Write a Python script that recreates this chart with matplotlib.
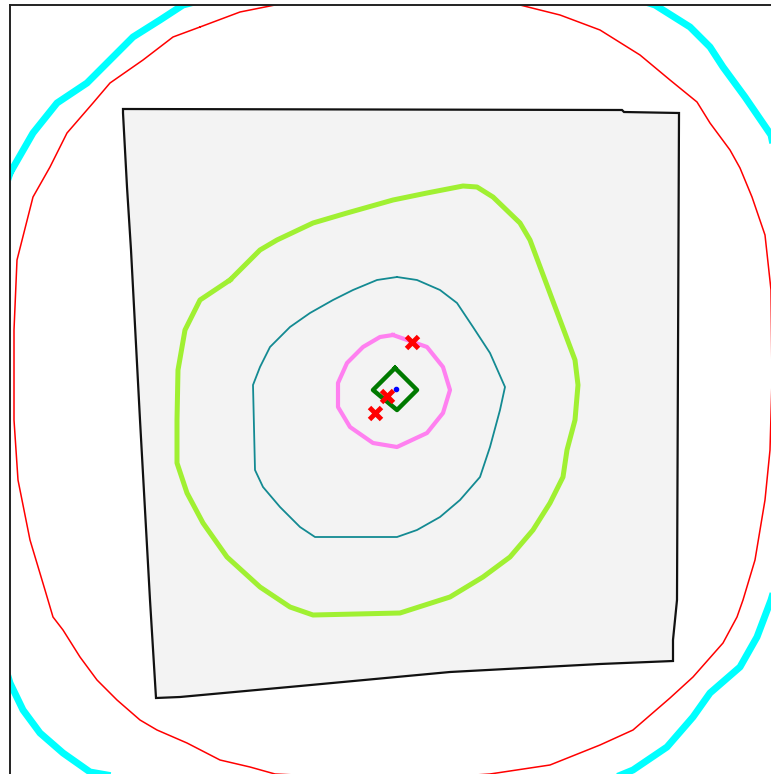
import numpy as np
import matplotlib
matplotlib.use("Agg")
import matplotlib.pyplot as plt
from matplotlib.patches import Polygon

# contour outlines (x, y in picture pixels, y down)
cyan_ring = [(10, 173), (33, 133), (57, 103), (87, 83), (107, 63), (133, 37), (160, 20),
             (183, 5), (300, -25), (420, -35), (560, -25), (655, 5), (690, 27), (710, 47),
             (723, 67), (745, 97), (771, 135), (795, 250), (805, 400), (795, 520),
             (771, 600), (757, 637), (740, 667), (710, 693), (693, 717), (667, 747),
             (633, 770), (560, 800), (400, 810), (250, 800), (90, 772), (63, 753),
             (40, 733), (23, 710), (10, 683), (-15, 600), (-25, 420), (-15, 250)]

red_ring = [(200, 27), (240, 12), (280, 4), (400, -3), (520, 5), (560, 15), (600, 30),
            (640, 55), (670, 80), (697, 102), (710, 123), (730, 150), (740, 168),
            (752, 197), (765, 235), (771, 290), (772, 380), (770, 450), (765, 500),
            (755, 560), (743, 600), (737, 617), (723, 643), (693, 677), (670, 698),
            (633, 730), (600, 745), (550, 765), (490, 774), (400, 780), (275, 774),
            (250, 767), (220, 760), (187, 743), (157, 730), (140, 720), (117, 700),
            (97, 680), (80, 657), (63, 630), (53, 617), (45, 590), (30, 540), (18, 480),
            (14, 420), (14, 330), (17, 260), (33, 197), (50, 167), (67, 133), (93, 103),
            (110, 83), (143, 60), (173, 37)]

green_ring = [(230, 280), (260, 250), (277, 240), (313, 223), (347, 213), (393, 200),
              (427, 193), (463, 186), (477, 187), (493, 197), (520, 223), (530, 240),
              (545, 280), (560, 320), (575, 360), (578, 385), (575, 420), (567, 450),
              (563, 477), (550, 503), (533, 530), (510, 557), (483, 577), (450, 597),
              (400, 613), (313, 615), (290, 607), (260, 587), (227, 557), (203, 523),
              (187, 493), (177, 463), (177, 420), (178, 370), (185, 330), (200, 300)]

teal_ring = [(397, 277), (417, 280), (440, 290), (457, 303), (473, 327), (490, 353),
             (505, 387), (500, 410), (490, 447), (480, 477), (460, 500), (440, 517),
             (417, 530), (397, 537), (315, 537), (300, 527), (280, 507), (263, 487),
             (255, 470), (253, 385), (260, 367), (270, 347), (290, 327), (310, 313),
             (333, 300), (353, 290), (377, 280)]

pink_ring = [(393, 335), (427, 347), (443, 367), (450, 390), (443, 413), (427, 433),
             (397, 447), (373, 443), (350, 427), (338, 407), (338, 383), (347, 363),
             (363, 347), (380, 337)]

diamond = [(395, 368), (417, 390), (397, 410), (373, 390)]

box = [(123, 109), (622, 110), (624, 112), (679, 113), (677, 600), (673, 640),
       (673, 661), (600, 664), (450, 672), (300, 686), (180, 697), (156, 698),
       (150, 600), (140, 420), (131, 250), (127, 187), (125, 150), (123, 113)]

red_x = [(412, 342), (387, 396), (375, 413)]
blue_pt = [(396, 389)]

W, H = 771, 774
fig = plt.figure(figsize=(W / 100, H / 100), dpi=100)
# axes whose right/bottom edges fall outside the picture
ext = 60
ax = fig.add_axes([10 / W, -ext / H, (W + ext - 10) / W, (H + ext - 5) / H])
ax.set_xlim(10, W + ext)
ax.set_ylim(H + ext, 5)
ax.set_xticks([]); ax.set_yticks([])
for s in ["left", "top"]:
    ax.spines[s].set_linewidth(1.4)
    ax.spines[s].set_color("#222222")


def ring(pts, color, lw, z):
    p = np.array(pts + [pts[0]], dtype=float)
    ax.plot(p[:, 0], p[:, 1], color=color, lw=lw, zorder=z, solid_joinstyle="round")


ax.add_patch(Polygon(np.array(box), closed=True, facecolor="#f3f3f3",
                     edgecolor="#111111", lw=1.6, zorder=1))

ring(cyan_ring, "#00ffff", 5.0, 2)
ring(red_ring, "#ff0000", 1.1, 2)
ring(green_ring, "#a0f032", 3.6, 3)
ring(teal_ring, "#138a92", 1.3, 3)
ring(pink_ring, "#ff80f0", 3.0, 4)
ring(diamond, "#007a00", 3.2, 5)

rx = np.array(red_x)
ax.plot(rx[:, 0], rx[:, 1], "x", color="#ff0000", ms=9, mew=3.5, zorder=6, ls="none")
bp = np.array(blue_pt)
ax.plot(bp[:, 0], bp[:, 1], "o", color="#0000ff", ms=3, zorder=7, ls="none")

fig.savefig("out.png", dpi=100)
